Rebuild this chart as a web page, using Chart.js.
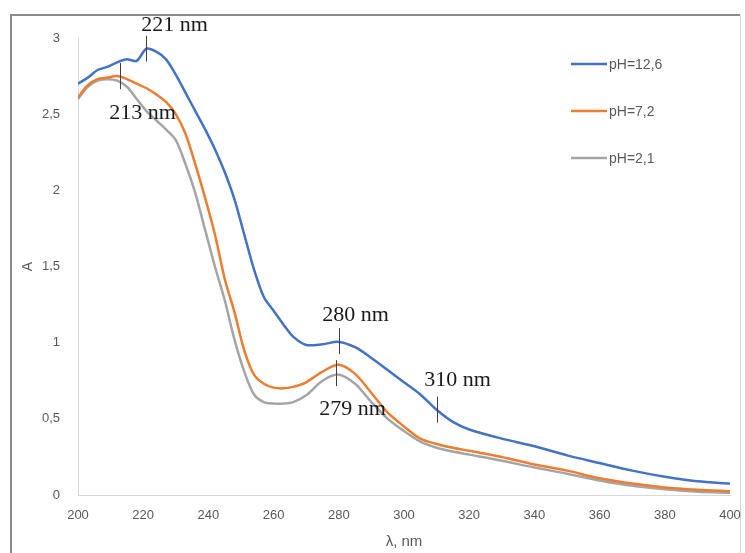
<!DOCTYPE html>
<html>
<head>
<meta charset="utf-8">
<script src="https://cdn.jsdelivr.net/npm/chart.js@4.4.1/dist/chart.umd.min.js"></script>
<style>
  html, body { margin: 0; padding: 0; background: #fff; }
  canvas { display: block; }
</style>
</head>
<body>
<canvas id="spectrum" width="745" height="553"></canvas>
<script>
// wavelengths, nm
var wavelengths = [200, 203, 206, 209, 212, 215, 218, 221, 224, 227, 230, 233, 236, 239, 242, 245, 248, 251, 254, 257,
                   260, 263, 266, 270, 275, 280, 285, 290, 295, 300, 305, 310, 315, 320, 330, 340, 350, 360, 370, 380, 390, 400];

var absPh126 = [2.70, 2.74, 2.79, 2.81, 2.84, 2.86, 2.85, 2.93, 2.91, 2.86, 2.76, 2.64, 2.52, 2.40, 2.27, 2.12, 1.94, 1.71, 1.48, 1.30,
                1.21, 1.12, 1.04, 0.985, 0.99, 1.005, 0.97, 0.90, 0.82, 0.74, 0.66, 0.56, 0.48, 0.43, 0.37, 0.32, 0.26, 0.21, 0.16, 0.12, 0.09, 0.075];

var absPh72 = [2.61, 2.69, 2.73, 2.74, 2.75, 2.73, 2.70, 2.67, 2.63, 2.58, 2.50, 2.37, 2.17, 1.95, 1.71, 1.42, 1.20, 0.95, 0.79, 0.73,
               0.705, 0.70, 0.71, 0.74, 0.81, 0.855, 0.795, 0.67, 0.54, 0.45, 0.37, 0.335, 0.31, 0.29, 0.25, 0.20, 0.16, 0.11, 0.075, 0.05, 0.035, 0.025];

var absPh21 = [2.60, 2.68, 2.72, 2.73, 2.72, 2.68, 2.60, 2.52, 2.46, 2.40, 2.33, 2.17, 1.98, 1.74, 1.50, 1.28, 1.02, 0.81, 0.66, 0.61,
               0.60, 0.60, 0.61, 0.655, 0.75, 0.79, 0.73, 0.61, 0.50, 0.42, 0.35, 0.31, 0.285, 0.265, 0.225, 0.18, 0.14, 0.095, 0.06, 0.038, 0.022, 0.015];

var seriesLabels = ['pH=12,6', 'pH=7,2', 'pH=2,1'];
var seriesColors = ['#4472C4', '#ED7D31', '#A5A5A5'];

// peak marks: wavelength, absorbance at the mark, text
var markNm = [221, 213, 280, 279, 310];
var markAbs = [2.93, 2.75, 1.01, 0.80, 0.56];
var markText = ['221 nm', '213 nm', '280 nm', '279 nm', '310 nm'];

var xTicks = [200, 220, 240, 260, 280, 300, 320, 340, 360, 380, 400];

function toPoints(ys) {
    return wavelengths.map(function(w, i) { return { x: w, y: ys[i] }; });
}

var gray = '#595959';

// text offsets of each mark label (px, from the mark centre)
var markTextOffset = [[28, -23], [22, 37], [16, -26], [16, 36], [20, -29]];

var extras = {
    id: 'extras',
    beforeDraw: function(chart) {
        var ctx = chart.ctx;
        ctx.save();
        ctx.fillStyle = '#fff';
        ctx.fillRect(0, 0, chart.width, chart.height);
        // outer frame
        ctx.strokeStyle = '#8c8c8c';
        ctx.lineWidth = 2;
        ctx.beginPath();
        ctx.moveTo(11, chart.height);
        ctx.lineTo(11, 15);
        ctx.lineTo(740, 15);
        ctx.stroke();
        ctx.strokeStyle = '#d4d4d4';
        ctx.lineWidth = 1;
        ctx.beginPath();
        ctx.moveTo(740.5, 15);
        ctx.lineTo(740.5, chart.height);
        ctx.stroke();
        ctx.restore();
    },
    afterDraw: function(chart) {
        var ctx = chart.ctx;
        var xs = chart.scales.x, ys = chart.scales.y;
        ctx.save();
        // legend
        ctx.font = '14px "Liberation Sans", Arial, sans-serif';
        ctx.textBaseline = 'middle';
        ctx.textAlign = 'left';
        chart.data.datasets.forEach(function(ds, i) {
            var y = 64 + i * 47;
            ctx.strokeStyle = ds.borderColor;
            ctx.lineWidth = 2.5;
            ctx.beginPath();
            ctx.moveTo(571, y);
            ctx.lineTo(607, y);
            ctx.stroke();
            ctx.fillStyle = gray;
            ctx.fillText(ds.label, 609, y + 1);
        });
        // peak marks
        ctx.font = '22px "Liberation Serif", "Times New Roman", serif';
        ctx.textAlign = 'center';
        markNm.forEach(function(nm, i) {
            var px = Math.round(xs.getPixelForValue(nm)) + 0.5;
            var py = ys.getPixelForValue(markAbs[i]);
            ctx.strokeStyle = '#404040';
            ctx.lineWidth = 1;
            ctx.beginPath();
            ctx.moveTo(px, py - 13);
            ctx.lineTo(px, py + 13);
            ctx.stroke();
            ctx.fillStyle = '#1a1a1a';
            ctx.fillText(markText[i], px + markTextOffset[i][0], py + markTextOffset[i][1]);
        });
        ctx.restore();
    }
};

var ctx = document.getElementById('spectrum').getContext('2d');
var chart = new Chart(ctx, {
    type: 'line',
    data: {
        datasets: [
            { label: seriesLabels[0], data: toPoints(absPh126), borderColor: seriesColors[0] },
            { label: seriesLabels[1], data: toPoints(absPh72), borderColor: seriesColors[1] },
            { label: seriesLabels[2], data: toPoints(absPh21), borderColor: seriesColors[2] }
        ]
    },
    options: {
        responsive: false,
        animation: false,
        devicePixelRatio: 1,
        layout: { padding: { left: 12, right: 15, top: 38, bottom: 0 } },
        elements: {
            point: { radius: 0 },
            line: { borderWidth: 2.5, tension: 0.3, fill: false }
        },
        plugins: {
            legend: { display: false },
            tooltip: { enabled: false }
        },
        scales: {
            x: {
                type: 'linear',
                min: 200,
                max: 400,
                afterBuildTicks: function(scale) {
                    scale.ticks = xTicks.map(function(v) { return { value: v }; });
                },
                afterFit: function(scale) {
                    scale.height = 58;
                    scale.paddingLeft = 0;
                    scale.paddingRight = 0;
                },
                grid: { display: false, drawTicks: false },
                border: { display: true, color: '#d9d9d9', width: 1 },
                ticks: {
                    padding: 13,
                    color: gray,
                    font: { family: '"Liberation Sans", Arial, sans-serif', size: 13 },
                    maxRotation: 0
                },
                title: {
                    display: true,
                    text: 'λ, nm',
                    color: gray,
                    padding: { top: 0, bottom: 2 },
                    font: { family: '"Liberation Sans", Arial, sans-serif', size: 15 }
                }
            },
            y: {
                min: 0,
                max: 3,
                afterFit: function(scale) {
                    scale.width = 66;
                    scale.paddingTop = 0;
                    scale.paddingBottom = 0;
                },
                grid: { display: false, drawTicks: false },
                border: { display: true, color: '#d9d9d9', width: 1 },
                ticks: {
                    stepSize: 0.5,
                    padding: 18,
                    color: gray,
                    font: { family: '"Liberation Sans", Arial, sans-serif', size: 13 },
                    callback: function(v) { return String(v).replace('.', ','); }
                },
                title: {
                    display: true,
                    text: 'A',
                    color: gray,
                    padding: { top: 8, bottom: 0 },
                    font: { family: '"Liberation Sans", Arial, sans-serif', size: 14 }
                }
            }
        }
    },
    plugins: [extras]
});
</script>
</body>
</html>
